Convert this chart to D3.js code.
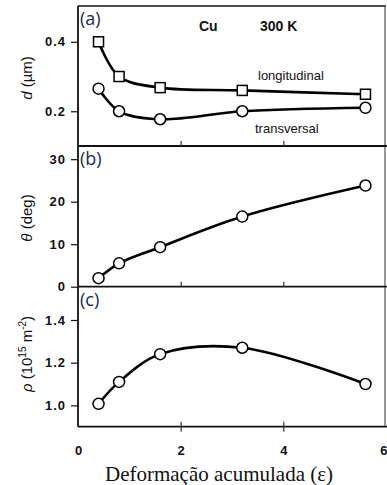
<!DOCTYPE html>
<html><head><meta charset="utf-8">
<script src="https://cdn.jsdelivr.net/npm/d3@7"></script>
<style>body{margin:0;background:#fff}svg{display:block}</style>
</head><body>
<svg id="c" width="387" height="485"></svg>
<script>
const strain = [0.4, 0.8, 1.6, 3.2, 5.6];
const dLongitudinal = [0.40, 0.30, 0.268, 0.26, 0.249];
const dTransversal = [0.265, 0.20, 0.177, 0.20, 0.21];
const theta = [2.0, 5.5, 9.3, 16.5, 23.8];
const rho = [1.007, 1.11, 1.24, 1.27, 1.10];
const xTicks = [0, 2, 4, 6];
const dTicks = [0.2, 0.4];
const thetaTicks = [0, 10, 20, 30];
const rhoTicks = [1.0, 1.2, 1.4];

const svg = d3.select("#c");
const left = 78, right = 386;
const x = d3.scaleLinear().domain([0, 6]).range([left, right]);
const panels = [
  {top: 6, bottom: 146, domain: [0.1, 0.503], ticks: dTicks, fmt: d3.format(".1f"), label: "(a)"},
  {top: 146, bottom: 286.7, domain: [0, 33.1], ticks: thetaTicks, fmt: d3.format("d"), label: "(b)"},
  {top: 286.7, bottom: 426.7, domain: [0.9, 1.556], ticks: rhoTicks, fmt: d3.format(".1f"), label: "(c)"}
];
panels.forEach(p => { p.y = d3.scaleLinear().domain(p.domain).range([p.bottom, p.top]); });

const tickFont = "bold 13px 'Liberation Sans', Arial, sans-serif";

svg.append("line").attr("x1", left).attr("x2", 386).attr("y1", 6).attr("y2", 6).attr("stroke", "#111").attr("stroke-width", 1.5);
svg.append("line").attr("x1", 385).attr("x2", 385).attr("y1", 6).attr("y2", 426.7).attr("stroke", "#555").attr("stroke-width", 1.2);

panels.forEach((p, i) => {
  const ya = svg.append("g").attr("transform", `translate(${left},0)`)
    .call(d3.axisLeft(p.y).tickValues(p.ticks).tickFormat(p.fmt).tickSize(7).tickPadding(5));
  ya.select(".domain").attr("stroke", "#111").attr("stroke-width", 1.8).attr("d", `M0,${p.top}V${p.bottom}`);
  ya.selectAll(".tick line").attr("stroke", "#111").attr("stroke-width", 1.2);
  ya.selectAll(".tick text").style("font", tickFont).style("letter-spacing", "1px").attr("fill", "#111");
  const xa = svg.append("g").attr("transform", `translate(0,${p.bottom})`)
    .call(d3.axisBottom(x).tickValues(xTicks).tickSize(0).tickFormat(""));
  xa.select(".domain").attr("stroke", "#111").attr("stroke-width", 1.8).attr("d", `M${left},0H387`);
  xa.selectAll(".tick line").remove();
  xa.selectAll(".tick").filter(d => d > 0 && d < 6).append("line")
    .attr("y1", i === 2 ? 5 : 0).attr("y2", -5).attr("stroke", "#333").attr("stroke-width", 1.2);
  if (i === 2) {
    xa.selectAll(".tick text").remove();
    xa.selectAll(".tick").append("text").text(d => d)
      .attr("y", 28).attr("x", d => d === 6 ? 1 : 0)
      .attr("text-anchor", d => d === 6 ? "end" : "middle")
      .style("font", tickFont).attr("fill", "#111");
  }
  svg.append("text").attr("x", 80).attr("y", p.top + 19).text(p.label)
    .style("font", "18px 'Open Sans', 'Noto Sans', sans-serif").attr("fill", "#1b2a5c");
});

const curve = d3.curveCatmullRom.alpha(0.5);
function drawSeries(vals, p, marker) {
  const pts = strain.map((s, k) => [x(s), p.y(vals[k])]);
  svg.append("path").attr("d", d3.line().curve(curve)(pts))
    .attr("fill", "none").attr("stroke", "#000").attr("stroke-width", 2.6);
  const g = svg.append("g");
  if (marker === "square") {
    g.selectAll("rect").data(pts).join("rect")
      .attr("x", d => d[0] - 5).attr("y", d => d[1] - 5).attr("width", 10).attr("height", 10)
      .attr("fill", "#fff").attr("stroke", "#000").attr("stroke-width", 1.5);
  } else {
    g.selectAll("circle").data(pts).join("circle")
      .attr("cx", d => d[0]).attr("cy", d => d[1]).attr("r", 5.5)
      .attr("fill", "#fff").attr("stroke", "#000").attr("stroke-width", 1.5);
  }
}
drawSeries(dLongitudinal, panels[0], "square");
drawSeries(dTransversal, panels[0], "circle");
drawSeries(theta, panels[1], "circle");
drawSeries(rho, panels[2], "circle");

const sans = "'Liberation Sans', Arial, sans-serif";
svg.append("text").attr("x", 199).attr("y", 31).text("Cu").style("font", `bold 14px ${sans}`).attr("fill", "#111");
svg.append("text").attr("x", 260).attr("y", 31).text("300 K").style("font", `bold 14px ${sans}`).attr("fill", "#111");
svg.append("text").attr("x", 258).attr("y", 80).text("longitudinal").style("font", `13px ${sans}`).attr("fill", "#111");
svg.append("text").attr("x", 255).attr("y", 133).text("transversal").style("font", `13px ${sans}`).attr("fill", "#111");

function yTitle(cy, build) {
  const t = svg.append("text").attr("transform", `translate(32,${cy}) rotate(-90)`)
    .attr("text-anchor", "middle").style("font", `15px ${sans}`).attr("fill", "#111");
  build(t);
}
yTitle(78, t => { t.append("tspan").text("d").style("font-style", "italic"); t.append("tspan").text(" (µm)"); });
yTitle(218, t => { t.append("tspan").text("θ").style("font-style", "italic"); t.append("tspan").text(" (deg)"); });
yTitle(354, t => {
  t.append("tspan").text("ρ").style("font-style", "italic");
  t.append("tspan").text(" (10");
  t.append("tspan").text("15").attr("dy", -6).style("font-size", "10px");
  t.append("tspan").text(" m").attr("dy", 6);
  t.append("tspan").text("-2").attr("dy", -6).style("font-size", "10px");
  t.append("tspan").text(")").attr("dy", 6);
});

svg.append("text").attr("x", 219).attr("y", 481).attr("text-anchor", "middle")
  .text("Deformação acumulada (ε)")
  .style("font", "21px 'Liberation Serif', 'Times New Roman', serif").attr("fill", "#111");
</script>
</body></html>
